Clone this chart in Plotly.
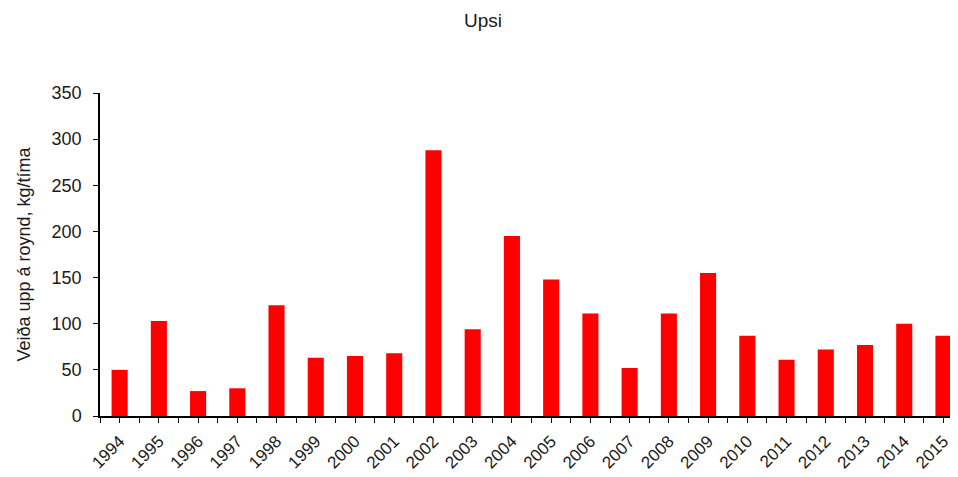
import plotly.graph_objects as go

years = [1994, 1995, 1996, 1997, 1998, 1999, 2000, 2001, 2002, 2003, 2004,
         2005, 2006, 2007, 2008, 2009, 2010, 2011, 2012, 2013, 2014, 2015]
values = [50, 103, 27, 30, 120, 63, 65, 68, 288, 94, 195,
          148, 111, 52, 111, 155, 87, 61, 72, 77, 100, 87]
y_ticks = [0, 50, 100, 150, 200, 250, 300, 350]

font = "Liberation Sans, Arial, sans-serif"
txt = "#1a1a1a"

fig = go.Figure(go.Bar(x=years, y=values, marker=dict(color="#ff0000", line=dict(width=0))))

# page body has an 8px margin; figure sized so it ends at the window edge
fig.update_layout(
    width=950, height=469,
    margin=dict(l=92, r=0, t=85, b=61),
    paper_bgcolor="white", plot_bgcolor="white",
    bargap=0.59,
    showlegend=False,
    title=dict(text="Upsi", x=0.5, xanchor="center", y=0.974, yanchor="middle",
               font=dict(family=font, size=19, color=txt)),
    font=dict(family=font, color=txt),
)
fig.update_xaxes(
    range=[1993.5, 2015.37], automargin=False,
    tickmode="array", tickvals=years, ticktext=[str(y) for y in years],
    tickangle=-45, tickfont=dict(size=17, family=font, color=txt),
    ticklabelstandoff=2,
    showline=True, linecolor="black", linewidth=1.5,
    ticks="outside", ticklen=5, tickcolor="black",
    minor=dict(tick0=1993.5, dtick=1, ticks="outside", ticklen=5, tickcolor="black"),
    showgrid=False, zeroline=False,
)
fig.update_yaxes(
    range=[0, 350], automargin=False, tickmode="array", tickvals=y_ticks,
    tickfont=dict(size=18, family=font, color=txt),
    ticklabelstandoff=8,
    showline=True, linecolor="black", linewidth=1.5,
    ticks="outside", ticklen=5, tickcolor="black",
    showgrid=False, zeroline=False,
    title=dict(text="Veiða upp á roynd, kg/tíma", font=dict(size=18, family=font, color=txt), standoff=16),
)

fig.write_html("out.html")
